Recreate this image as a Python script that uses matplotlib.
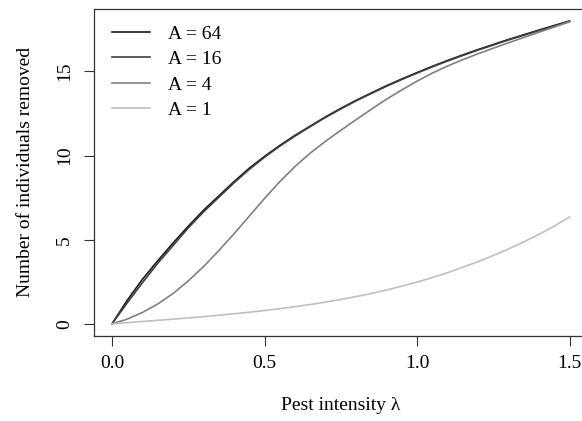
import numpy as np
import matplotlib.pyplot as plt

plt.rcParams['font.family'] = ['Liberation Serif', 'DejaVu Serif']

# pest intensity grid and removals for each A
lam = [0.0, 0.05, 0.1, 0.15, 0.2, 0.25, 0.3, 0.35, 0.4, 0.45,
       0.5, 0.55, 0.6, 0.65, 0.7, 0.75, 0.8, 0.85, 0.9, 0.95,
       1.0, 1.05, 1.1, 1.15, 1.2, 1.25, 1.3, 1.35, 1.4, 1.45, 1.5]
removed_a64 = [0.0, 1.4, 2.65, 3.75, 4.8, 5.8, 6.75, 7.6, 8.45, 9.25,
               9.95, 10.6, 11.2, 11.75, 12.3, 12.8, 13.28, 13.72, 14.15, 14.55,
               14.93, 15.3, 15.65, 15.98, 16.3, 16.6, 16.9, 17.18, 17.46, 17.73,
               18.0]
removed_a16 = [0.0, 1.25, 2.45, 3.6, 4.65, 5.7, 6.65, 7.52, 8.38, 9.18,
               9.9, 10.56, 11.16, 11.72, 12.27, 12.77, 13.25, 13.69, 14.12, 14.52,
               14.9, 15.27, 15.62, 15.95, 16.27, 16.57, 16.87, 17.15, 17.43, 17.7,
               17.97]
removed_a4 = [0.0, 0.28, 0.68, 1.18, 1.8, 2.55, 3.4, 4.35, 5.35, 6.4,
              7.45, 8.45, 9.35, 10.15, 10.85, 11.5, 12.13, 12.75, 13.35, 13.9,
              14.42, 14.9, 15.32, 15.7, 16.05, 16.38, 16.7, 17.02, 17.33, 17.64,
              17.95]
removed_a1 = [0.0, 0.07, 0.14, 0.21, 0.28, 0.35, 0.43, 0.51, 0.6, 0.69,
              0.79, 0.9, 1.02, 1.15, 1.29, 1.45, 1.62, 1.8, 2.01, 2.24,
              2.48, 2.75, 3.04, 3.36, 3.7, 4.06, 4.45, 4.87, 5.32, 5.81,
              6.35]

labels = ['A = 64', 'A = 16', 'A = 4', 'A = 1']
colors = ['#1a1a1a', '#404040', '#808080', '#bfbfbf']
xticks = [0.0, 0.5, 1.0, 1.5]
yticks = [0, 5, 10, 15]

fig = plt.figure(figsize=(5.82, 4.21), dpi=100)
ax = fig.add_axes([0.161, 0.202, 0.849, 0.777])

for y, lab, col in zip([removed_a64, removed_a16, removed_a4, removed_a1],
                       labels, colors):
    ax.plot(lam, y, color=col, linewidth=1.2, label=lab)

ax.set_xlim(-0.06, 1.56)
ax.set_ylim(-0.72, 18.72)
ax.set_xticks(xticks)
ax.set_xticklabels([f'{t:.1f}' for t in xticks])
ax.set_yticks(yticks)
ax.set_yticklabels([str(t) for t in yticks], rotation=90, va='center')
ax.tick_params(direction='out', length=7, width=0.8, color='#333333',
               labelsize=14, pad=7)
ax.tick_params(axis='y', pad=8)
for s in ax.spines.values():
    s.set_linewidth(0.9)
    s.set_color('#333333')

ax.set_xlabel('Pest intensity λ', fontsize=14, labelpad=18)
ax.set_ylabel('Number of individuals removed', fontsize=14, labelpad=16)

ax.legend(loc='upper left', bbox_to_anchor=(0.037, 0.95), frameon=False,
          fontsize=14, handlelength=1.96, handletextpad=0.9,
          labelspacing=0.4, borderaxespad=0.0, borderpad=0.0)

fig.savefig('out.png', dpi=100)
